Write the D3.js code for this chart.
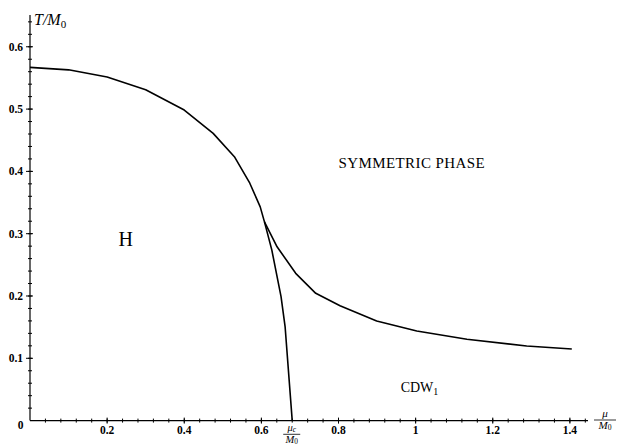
<!DOCTYPE html>
<html><head><meta charset="utf-8">
<script src="https://cdn.jsdelivr.net/npm/d3@7"></script>
<style>body{margin:0;background:#fff}svg{display:block}</style>
</head><body>
<script>
// Phase boundary: main curve from mu=0 down to the split point, then steep branch to mu_c
const mainMu = [0, 0.1, 0.2, 0.3, 0.4, 0.475, 0.53, 0.57, 0.597, 0.608, 0.627, 0.651, 0.6615, 0.68];
const mainT  = [0.567, 0.563, 0.5515, 0.531, 0.4985, 0.461, 0.4236, 0.381, 0.343, 0.319, 0.274, 0.199, 0.151, 0.0];
// Upper branch (symmetric phase / CDW1 boundary)
const upperMu = [0.608, 0.6407, 0.689, 0.741, 0.804, 0.899, 1.003, 1.133, 1.288, 1.405];
const upperT  = [0.319, 0.279, 0.2364, 0.2043, 0.1844, 0.160, 0.1438, 0.1305, 0.1197, 0.115];
const xTicks = [0.2, 0.4, 0.6, 0.8, 1, 1.2, 1.4];
const xTickLabels = ["0.2", "0.4", "0.6", "0.8", "1", "1.2", "1.4"];
const yTicks = [0.1, 0.2, 0.3, 0.4, 0.5, 0.6];
const yTickLabels = ["0.1", "0.2", "0.3", "0.4", "0.5", "0.6"];
const muC = 0.68;
const regionLabels = [
  {text: "SYMMETRIC PHASE", mu: 0.99, T: 0.406, size: 15, spacing: 0.4},
  {text: "H", mu: 0.248, T: 0.281, size: 20, spacing: 0},
  {text: "CDW", sub: "1", mu: 1.01, T: 0.046, size: 14, spacing: 0}
];

const SERIF = "'Liberation Serif', 'Times New Roman', 'DejaVu Serif', serif";
const W = 618, H = 445;
const svg = d3.select("body").append("svg").attr("width", W).attr("height", H)
  .attr("font-family", SERIF).style("font-family", SERIF);
const x = d3.scaleLinear().domain([0, 1.447]).range([30, 588]);
const y = d3.scaleLinear().domain([0, 0.651]).range([420.6, 15]);

// axes lines
svg.append("line").attr("x1", x(0)).attr("x2", x(1.447)).attr("y1", y(0)).attr("y2", y(0))
  .attr("stroke", "#000").attr("stroke-width", 1.2);
svg.append("line").attr("x1", x(0)).attr("x2", x(0)).attr("y1", y(0)).attr("y2", y(0.651))
  .attr("stroke", "#000").attr("stroke-width", 1.2);

// minor ticks
const xMinor = d3.range(1, 37).map(i => i * 0.04).filter(v => v < 1.447);
svg.append("g").selectAll("line").data(xMinor).join("line")
  .attr("x1", d => x(d)).attr("x2", d => x(d))
  .attr("y1", y(0) - 2).attr("y2", y(0) + 2).attr("stroke", "#000").attr("stroke-width", 1);
const yMinor = d3.range(1, 33).map(i => i * 0.02).filter(v => v < 0.651);
svg.append("g").selectAll("line").data(yMinor).join("line")
  .attr("x1", x(0) - 2).attr("x2", x(0) + 2)
  .attr("y1", d => y(d)).attr("y2", d => y(d)).attr("stroke", "#000").attr("stroke-width", 1);
// major ticks
svg.append("g").selectAll("line").data(xTicks).join("line")
  .attr("x1", d => x(d)).attr("x2", d => x(d))
  .attr("y1", y(0) - 3).attr("y2", y(0) + 3).attr("stroke", "#000").attr("stroke-width", 1);
svg.append("g").selectAll("line").data(yTicks).join("line")
  .attr("x1", x(0) - 4).attr("x2", x(0) + 3)
  .attr("y1", d => y(d)).attr("y2", d => y(d)).attr("stroke", "#000").attr("stroke-width", 1);

// tick labels
svg.append("g").selectAll("text").data(xTicks).join("text")
  .attr("x", d => x(d)).attr("y", y(0) + 13)
  .attr("text-anchor", "middle").attr("font-size", 11.5).attr("font-weight", "bold")
  .text((d, i) => xTickLabels[i]);
svg.append("g").selectAll("text").data(yTicks).join("text")
  .attr("x", x(0) - 7).attr("y", d => y(d) + 4)
  .attr("text-anchor", "end").attr("font-size", 11.5).attr("font-weight", "bold")
  .text((d, i) => yTickLabels[i]);
svg.append("text").attr("x", x(0) - 9.5).attr("y", y(0) + 8.5)
  .attr("text-anchor", "middle").attr("font-size", 11.5).attr("font-weight", "bold").text("0");

// fraction helper
function fraction(cx, cyLine, num, numSub, den, denSub, fs, w) {
  const g = svg.append("g");
  const t1 = g.append("text").attr("x", cx).attr("y", cyLine - 3.2).attr("text-anchor", "middle")
    .attr("font-size", fs).attr("font-style", "italic");
  t1.append("tspan").text(num);
  if (numSub) t1.append("tspan").attr("font-size", fs * 0.7).attr("dy", 0.8).text(numSub);
  const t2 = g.append("text").attr("x", cx).attr("y", cyLine + fs * 0.8).attr("text-anchor", "middle")
    .attr("font-size", fs);
  t2.append("tspan").attr("font-style", "italic").text(den);
  if (denSub) t2.append("tspan").attr("font-size", fs * 0.7).attr("dy", 1.2).text(denSub);
  g.append("line").attr("x1", cx - w / 2).attr("x2", cx + w / 2).attr("y1", cyLine).attr("y2", cyLine)
    .attr("stroke", "#000").attr("stroke-width", 0.8);
}
fraction(x(muC) - 0.5, 434.3, "μ", "c", "M", "0", 10.5, 17);
fraction(605, 420, "μ", null, "M", "0", 11, 22);

// y-axis title
const yt = svg.append("text").attr("x", 34).attr("y", 25).attr("font-size", 16);
yt.append("tspan").attr("font-style", "italic").text("T/M");
yt.append("tspan").attr("font-size", 11).attr("dy", 3).text("0");

// curves
const line = d3.line().x(d => x(d[0])).y(d => y(d[1]));
svg.append("path").datum(mainMu.map((m, i) => [m, mainT[i]])).attr("d", line)
  .attr("fill", "none").attr("stroke", "#000").attr("stroke-width", 1.6).attr("stroke-linejoin", "round");
svg.append("path").datum(upperMu.map((m, i) => [m, upperT[i]])).attr("d", line)
  .attr("fill", "none").attr("stroke", "#000").attr("stroke-width", 1.6).attr("stroke-linejoin", "round");

// region labels
regionLabels.forEach(r => {
  const t = svg.append("text").attr("x", x(r.mu)).attr("y", y(r.T)).attr("text-anchor", "middle")
    .attr("font-size", r.size).attr("letter-spacing", r.spacing);
  t.append("tspan").text(r.text);
  if (r.sub) t.append("tspan").attr("font-size", 10).attr("dy", 3).text(r.sub);
});
</script>
</body></html>
